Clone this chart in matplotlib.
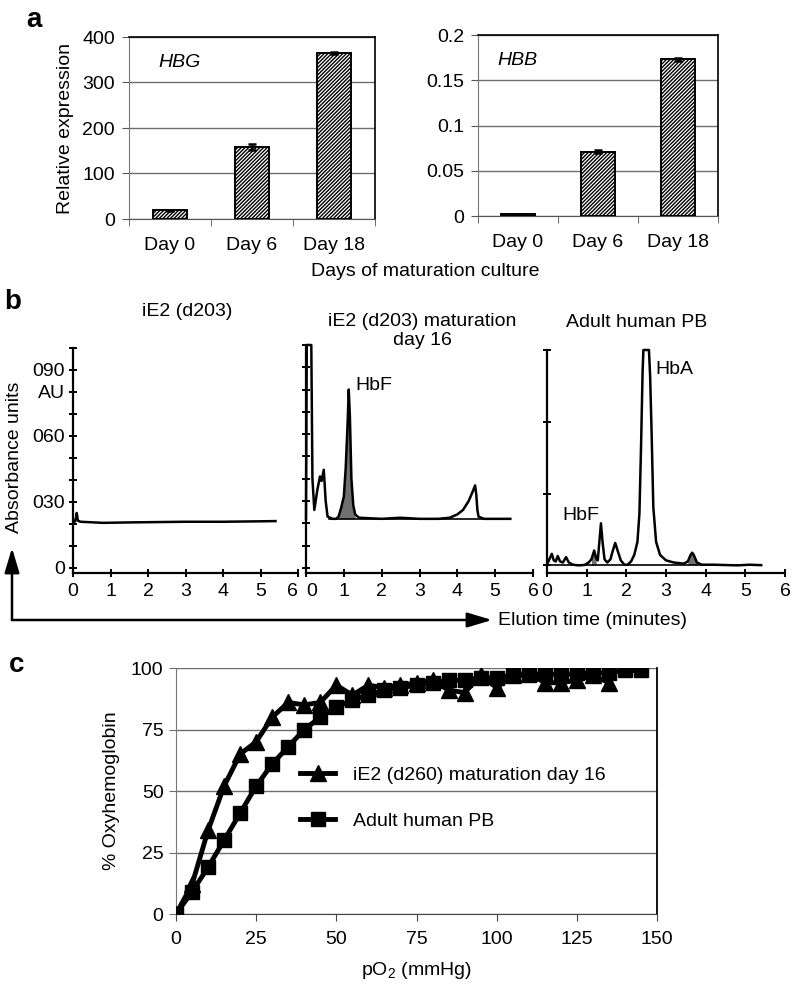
import matplotlib

matplotlib.use("Agg")
import matplotlib.pyplot as plt
import numpy as np
from matplotlib.patches import FancyArrowPatch

plt.rcParams["font.family"] = ["Liberation Sans", "DejaVu Sans"]
plt.rcParams["mathtext.default"] = "regular"
plt.rcParams["hatch.linewidth"] = 1.0
FS = 14

# ---- panel a: relative expression ----
days = ["Day 0", "Day 6", "Day 18"]
hbg = [19, 158, 365]
hbg_err = [1, 6, 2]
hbg_ticks = [0, 100, 200, 300, 400]
hbg_labels = ["0", "100", "200", "300", "400"]
hbb = [0.002, 0.071, 0.173]
hbb_err = [0.0003, 0.0015, 0.002]
hbb_ticks = [0, 0.05, 0.1, 0.15, 0.2]
hbb_labels = ["0", "0.05", "0.1", "0.15", "0.2"]

# ---- panel b: HPLC traces (minutes, absorbance) ----
t_d203 = [0, 0.05, 0.08, 0.1, 0.13, 0.2, 0.8, 1.5, 2.5, 3.0, 4.0, 5.0, 5.4]
a_d203 = [21, 21, 23, 25, 21.5, 21, 20.5, 20.7, 20.9, 21, 21, 21.2, 21.3]

t_d16 = [0, 0.02, 0.14, 0.17, 0.22, 0.3, 0.37, 0.41, 0.47, 0.52, 0.57, 0.7,
         0.8, 0.86, 0.93, 1.0, 1.05, 1.1, 1.13, 1.16, 1.2, 1.25, 1.3, 1.4,
         2.0, 2.5, 3.0, 3.5, 3.8, 4.0, 4.15, 4.3, 4.4, 4.47, 4.5, 4.53, 4.56,
         4.7, 5.0, 5.4]
a_d16 = [22, 100, 100, 40, 26, 35, 41, 39, 44, 30, 23, 22,
         22, 23, 27, 32, 45, 65, 80, 68, 40, 28, 24, 22.5,
         22, 22.5, 22, 22, 22.5, 24, 26, 30, 34, 37, 33, 26, 23,
         22, 22, 22]
base_d16_t = [0.6, 5.4]
base_d16_a = [22, 22]
hbf_d16_window = (0.86, 1.32)

t_pb = [0, 0.06, 0.12, 0.17, 0.22, 0.27, 0.33, 0.4, 0.48, 0.55, 0.65, 0.8,
        0.95, 1.05, 1.12, 1.19, 1.24, 1.28, 1.32, 1.36, 1.4, 1.45, 1.52, 1.6,
        1.66, 1.72, 1.78, 1.86, 1.95, 2.03, 2.12, 2.2, 2.28, 2.33, 2.37, 2.41,
        2.43, 2.57, 2.6, 2.64, 2.68, 2.75, 2.85, 3.0, 3.2, 3.45, 3.55, 3.62,
        3.66, 3.7, 3.78, 3.9, 4.2, 4.8, 5.1, 5.4]
a_pb = [1.5, 4, 6.5, 3.5, 3, 5.5, 3, 2.5, 5, 2.5, 1.5, 1.2,
        1.4, 2.5, 4, 8, 4.5, 3.5, 12, 20.5, 12, 4, 2.5, 4,
        8, 11.5, 8, 3.5, 1.5, 1.5, 3, 6, 12, 25, 55, 90,
        100, 100, 88, 60, 28, 12, 6, 3.5, 2.5, 2, 3, 6,
        7, 6, 2.5, 1.5, 1.5, 1.2, 1.5, 1.3]
base_pb_t = [0, 5.4]
base_pb_a = [1.4, 1.4]
shade_pb_windows = [(1.12, 1.27), (3.52, 3.8)]

# ---- panel c: oxygen dissociation ----
po2_ie2 = [0, 5, 10, 15, 20, 25, 30, 35, 40, 45, 50, 55, 60, 65, 70, 75, 80,
           85, 90, 95, 100, 105, 110, 115, 120, 125, 130, 135]
oxy_ie2 = [0, 12, 34, 52, 65, 70, 80, 86, 85, 86, 93, 89, 93, 92, 93, 94, 95,
           91, 90, 97, 92, 97, 98, 94, 94, 95, 97, 94]
po2_pb = [0, 5, 10, 15, 20, 25, 30, 35, 40, 45, 50, 55, 60, 65, 70, 75, 80,
          85, 90, 95, 100, 105, 110, 115, 120, 125, 130, 135, 140, 145]
oxy_pb = [0, 9, 19, 30, 41, 52, 61, 68, 75, 80, 84, 87, 89, 91, 92, 93, 94,
          95, 95, 96, 96, 97, 97, 98, 97, 98, 98, 98, 99, 99]

W, H = 793, 988


def rect(left, top, right, bottom):
    return [left / W, 1 - bottom / H, (right - left) / W, (bottom - top) / H]


fig = plt.figure(figsize=(W / 100, H / 100), dpi=100)


def bar_panel(r, vals, errs, ticks, labels, gene, gx):
    ax = fig.add_axes(r)
    x = np.arange(len(days))
    ax.bar(x, vals, width=0.42, color="white", edgecolor="black",
           hatch="/////////", lw=1.4, zorder=3)
    ax.errorbar(x, vals, yerr=errs, fmt="none", ecolor="black",
                capsize=3, lw=1.8, capthick=1.8, zorder=4)
    ax.set_xlim(-0.5, 2.5)
    ax.set_ylim(ticks[0], ticks[-1])
    ax.set_yticks(ticks)
    ax.set_yticklabels(labels)
    ax.yaxis.grid(True, color="#6e6e6e", lw=1)
    ax.set_axisbelow(True)
    ax.set_xticks(x)
    ax.set_xticklabels(days)
    ax.set_xticks([-0.5, 0.5, 1.5, 2.5], minor=True)
    ax.tick_params(axis="x", which="major", length=0, pad=13, labelsize=FS)
    ax.tick_params(axis="x", which="minor", length=5, color="#555555")
    ax.tick_params(axis="y", length=5, pad=5, labelsize=FS, color="#555555")
    ax.spines["left"].set_color("#777777")
    ax.spines["bottom"].set_color("#555555")
    for s in ("top", "right"):
        ax.spines[s].set_color("black")
        ax.spines[s].set_linewidth(1.2)
    ax.text(gx, 0.86, gene, style="italic", fontsize=FS,
            transform=ax.transAxes, va="center")
    return ax


ax1 = bar_panel(rect(129, 37, 375, 219), hbg, hbg_err, hbg_ticks, hbg_labels, "HBG", 0.118)
ax1.set_ylabel("Relative expression", fontsize=FS, labelpad=6)
ax2 = bar_panel(rect(478, 35, 718, 216), hbb, hbb_err, hbb_ticks, hbb_labels, "HBB", 0.079)
fig.text(425 / W, 1 - 271 / H, "Days of maturation culture", ha="center", va="center", fontsize=FS)


def chrom_panel(r, yticks_major, yticks_minor):
    ax = fig.add_axes(r)
    ax.set_xlim(0, 6)
    ax.set_ylim(-2.3, 100)
    for s in ("top", "right"):
        ax.spines[s].set_visible(False)
    for s in ("left", "bottom"):
        ax.spines[s].set_linewidth(1.6)
    ax.set_xticks(range(7))
    ax.tick_params(axis="x", direction="inout", length=6, width=1.4, pad=4, labelsize=FS)
    ax.set_yticks(yticks_major)
    ax.set_yticks(yticks_minor, minor=True)
    ax.tick_params(axis="y", which="both", direction="inout", length=6, width=1.4)
    return ax


tens = list(range(0, 101, 10))
bp1 = chrom_panel(rect(73, 348, 298, 573), [0, 30, 60, 80, 90], tens)
bp1.set_yticklabels(["0", "030", "060", "AU", "090"])
bp1.tick_params(axis="y", labelsize=FS, pad=3)
bp1.plot(t_d203, a_d203, color="black", lw=1.8)
bp1.get_xticklabels()[-1].set_horizontalalignment("right")

bp2 = chrom_panel(rect(306, 345, 533, 573), [], tens)
bp2.plot(t_d16, a_d16, color="black", lw=1.8, clip_on=False)
bp2.plot(base_d16_t, base_d16_a, color="black", lw=1.2)
td = np.array(t_d16)
ad = np.array(a_d16)
m = (td >= hbf_d16_window[0]) & (td <= hbf_d16_window[1])
bp2.fill_between(td[m], base_d16_a[0], ad[m], color="#707070", lw=0)
bp2.text(1.3, 82, "HbF", fontsize=FS, va="center")
bp2.get_xticklabels()[0].set_horizontalalignment("left")

bp3 = chrom_panel(rect(547, 350, 785, 573), [], [1.5, 34, 67, 100])
bp3.plot(t_pb, a_pb, color="black", lw=1.8, clip_on=False)
bp3.plot(base_pb_t, base_pb_a, color="black", lw=1.2)
tp = np.array(t_pb)
ap = np.array(a_pb)
for lo, hi in shade_pb_windows:
    m = (tp >= lo) & (tp <= hi)
    bp3.fill_between(tp[m], base_pb_a[0], ap[m], color="#707070", lw=0)
bp3.text(2.72, 91, "HbA", fontsize=FS, va="center")
bp3.text(0.4, 24, "HbF", fontsize=FS, va="center")

fig.text(187 / W, 1 - 312 / H, "iE2 (d203)", ha="center", va="center", fontsize=FS)
fig.text(422 / W, 1 - 331 / H, "iE2 (d203) maturation\nday 16", ha="center",
         va="center", fontsize=FS, linespacing=1.1)
fig.text(637 / W, 1 - 322 / H, "Adult human PB", ha="center", va="center", fontsize=FS)
fig.text(15 / W, 1 - 457 / H, "Absorbance units", rotation=90, ha="center",
         va="center", fontsize=FS)

corner = (12 / W, 1 - 620 / H)
for tip in [(12 / W, 1 - 548 / H), (492 / W, 1 - 620 / H)]:
    fig.add_artist(FancyArrowPatch(corner, tip, transform=fig.transFigure,
                                   arrowstyle="-|>,head_length=1.0,head_width=0.3",
                                   mutation_scale=15, lw=1.8, color="black",
                                   shrinkA=0, shrinkB=0))
fig.text(498 / W, 1 - 620 / H, "Elution time (minutes)", ha="left", va="center", fontsize=FS)

# ---- panel c ----
axc = fig.add_axes(rect(176, 668, 657, 914))
axc.plot(po2_ie2, oxy_ie2, color="black", lw=3.5, marker="^", ms=11, zorder=3,
         label="iE2 (d260) maturation day 16")
axc.plot(po2_pb, oxy_pb, color="black", lw=3.5, marker="s", ms=10, zorder=4,
         label="Adult human PB")
axc.set_xlim(0, 150)
axc.set_ylim(0, 100)
axc.set_xticks([0, 25, 50, 75, 100, 125, 150])
axc.set_yticks([0, 25, 50, 75, 100])
axc.yaxis.grid(True, color="#6e6e6e", lw=1)
axc.set_axisbelow(True)
axc.tick_params(axis="x", length=5, pad=7, labelsize=FS, color="#444444")
axc.tick_params(axis="y", length=5, pad=4, labelsize=FS, color="#6e6e6e")
axc.spines["top"].set_visible(False)
axc.spines["left"].set_color("#777777")
axc.spines["bottom"].set_color("#444444")
axc.spines["right"].set_color("black")
axc.spines["right"].set_linewidth(1.3)
axc.set_xlabel("pO$_2$ (mmHg)", fontsize=FS, labelpad=9)
axc.set_ylabel("% Oxyhemoglobin", fontsize=FS, labelpad=8)
axc.legend(loc="upper left", bbox_to_anchor=(0.258, 0.60), frameon=False,
           handlelength=1.8, handletextpad=0.9, labelspacing=1.45,
           borderpad=0, borderaxespad=0, fontsize=FS)

for lbl, x, y in [("a", 26, 20), ("b", 4, 302), ("c", 9, 665)]:
    fig.text(x / W, 1 - y / H, lbl, fontsize=20, fontweight="bold", ha="left", va="center")

fig.savefig("out.png", dpi=100)
